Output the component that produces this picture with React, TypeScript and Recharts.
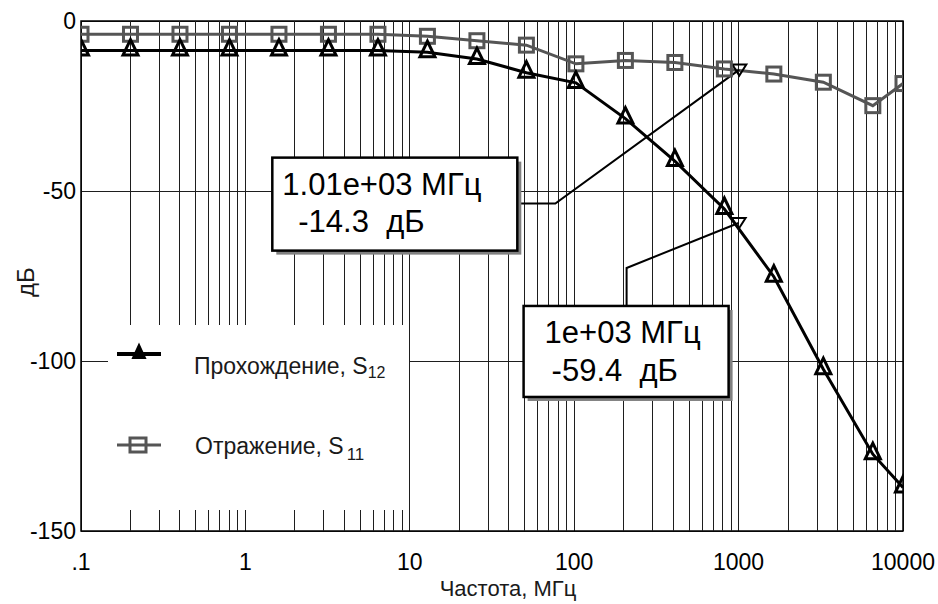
import React from 'react';
import {
  LineChart,
  Line,
  XAxis,
  YAxis,
  CartesianGrid,
  ReferenceLine,
  ReferenceArea,
  ReferenceDot,
  Legend,
} from 'recharts';

// частоты, МГц (шаг x2 от 0.1 до 10000)
const FREQS = [0.1, 0.2, 0.4, 0.8, 1.6, 3.2, 6.4, 12.8, 25.6, 51.2, 102.4, 204.8, 409.6, 819.2, 1638.4, 3276.8, 6553.6, 10000];
// прохождение S12, дБ
const S12 = [-8.7, -8.7, -8.7, -8.7, -8.7, -8.7, -8.7, -9.2, -11.2, -15.2, -18.2, -28.7, -41.2, -55.3, -75.2, -102.4, -127.4, -137.2];
// отражение S11, дБ
const S11 = [-3.9, -3.9, -3.9, -3.9, -3.9, -3.9, -3.9, -4.5, -5.8, -7.1, -12.6, -11.6, -12.2, -14.1, -15.6, -18.0, -24.9, -18.4];

const X_TICKS = [0.1, 1, 10, 100, 1000, 10000];
const Y_TICKS = [0, -50, -100, -150];
const DECADES = [0.1, 1, 10, 100, 1000];
const MINOR_STEPS = [2, 3, 4, 5, 6, 7, 8, 9];

const SERIES_NAMES = ['Прохождение, S', 'Отражение, S'];
const SERIES_SUBS = ['12', '11'];

// маркеры-курсоры
const CURSOR_S11 = { f: 1010, db: -14.3, freqText: '1.01e+03 МГц', dbText: '-14.3  дБ' };
const CURSOR_S12 = { f: 1000, db: -59.4, freqText: '1e+03 МГц', dbText: '-59.4  дБ' };

const FONT = '"Liberation Sans", Arial, sans-serif';
const GRID = '#1e1e1e';
const GRAY = '#555555';

const data = FREQS.map((f, i) => ({ f, s12: S12[i], s11: S11[i] }));
const minorLines = DECADES.flatMap((d) => MINOR_STEPS.map((m) => +(d * m).toPrecision(3)));

// plot box in px, only used to clip markers at the frame like the original
const PLOT = { x: 81, y: 21, w: 822, h: 510 };

const TriangleDot = (props: any) => {
  const { cx, cy, index } = props;
  if (cx == null || cy == null) return null;
  return (
    <path
      key={`tri-${index}`}
      d={`M${cx - 7.5},${cy + 4.5} L${cx},${cy - 11} L${cx + 7.5},${cy + 4.5} Z`}
      fill="none"
      stroke="#000"
      strokeWidth={3}
      clipPath="url(#plotClip)"
    />
  );
};

const SquareDot = (props: any) => {
  const { cx, cy, index } = props;
  if (cx == null || cy == null) return null;
  return (
    <rect
      key={`sq-${index}`}
      x={cx - 7}
      y={cy - 7}
      width={14}
      height={14}
      fill="none"
      stroke={GRAY}
      strokeWidth={3}
      clipPath="url(#plotClip)"
    />
  );
};

// callout: box offset/size relative to the cursor point, leader polyline, text positions
const makeCallout =
  (c: typeof CURSOR_S11, box: number[], leader: number[][], t1: number[], t2: number[], withClip = false) =>
  (props: any) => {
    const { cx, cy } = props;
    if (cx == null || cy == null) return <g />;
    const bx = cx + box[0];
    const by = cy + box[1];
    const pts = leader.map((p) => `${cx + p[0]},${cy + p[1]}`).join(' ') + ` ${cx},${cy}`;
    return (
      <g>
        {withClip && (
          <defs>
            <clipPath id="plotClip">
              <rect x={PLOT.x} y={PLOT.y} width={PLOT.w} height={PLOT.h} />
            </clipPath>
          </defs>
        )}
        <polyline points={pts} fill="none" stroke="#000" strokeWidth={2} />
        <path
          d={`M${cx - 7},${cy - 5} L${cx + 7},${cy - 5} L${cx},${cy + 6} Z`}
          fill="none"
          stroke="#000"
          strokeWidth={2}
        />
        <rect x={bx + 4} y={by + 4} width={box[2]} height={box[3]} fill="#808080" />
        <rect x={bx} y={by} width={box[2]} height={box[3]} fill="#fff" stroke="#000" strokeWidth={2.5} />
        <text x={bx + t1[0]} y={by + t1[1]} fontFamily={FONT} fontSize={31} fill="#000" style={{ whiteSpace: 'pre' }}>
          {c.freqText}
        </text>
        <text x={bx + t2[0]} y={by + t2[1]} fontFamily={FONT} fontSize={31} fill="#000" style={{ whiteSpace: 'pre' }}>
          {c.dbText}
        </text>
      </g>
    );
  };

const CalloutS11 = makeCallout(CURSOR_S11, [-467, 88, 245, 93], [[-222, 134], [-184, 134]], [10, 37], [26, 74], true);
const CalloutS12 = makeCallout(CURSOR_S12, [-215, 83, 205, 91], [[-112, 83], [-112, 45]], [21, 37], [28, 75]);

const renderLegend = () => (
  <svg width={301} height={185} style={{ display: 'block' }}>
    <line x1={9} y1={29} x2={53} y2={29} stroke="#000" strokeWidth={4} />
    <path d="M25,33 L31,20 L37,33 Z" fill="#000" stroke="#000" strokeWidth={2} />
    <text x={86} y={49} fontFamily={FONT} fontSize={23} fill="#1a1a1a">
      {SERIES_NAMES[0]}
      <tspan fontSize={16} dy={4}>
        {SERIES_SUBS[0]}
      </tspan>
    </text>
    <line x1={9} y1={120} x2={53} y2={120} stroke={GRAY} strokeWidth={3} />
    <rect x={22} y={113} width={16} height={14} fill="none" stroke={GRAY} strokeWidth={3} />
    <text x={87} y={129} fontFamily={FONT} fontSize={23} fill="#1a1a1a">
      {SERIES_NAMES[1]}
      <tspan fontSize={17} dx={3} dy={6}>
        {SERIES_SUBS[1]}
      </tspan>
    </text>
  </svg>
);

const XTitle = (props: any) => {
  const vb = props.viewBox || {};
  return (
    <text x={vb.x + vb.width / 2 + 16} y={vb.y + vb.height - 8} textAnchor="middle" fontFamily={FONT} fontSize={22} fill="#1a1a1a">
      Частота, МГц
    </text>
  );
};

const YTitle = (props: any) => {
  const vb = props.viewBox || {};
  const x = 34;
  const y = vb.y + vb.height / 2 + 6;
  return (
    <text x={x} y={y} transform={`rotate(-90 ${x} ${y})`} textAnchor="middle" fontFamily={FONT} fontSize={24} fill="#1a1a1a">
      дБ
    </text>
  );
};

export default function App() {
  return (
    <div style={{ position: 'absolute', left: 0, top: 0, width: 938, height: 604, background: '#fff' }}>
      <LineChart width={938} height={604} data={data} margin={{ top: 21, right: 35, left: 0, bottom: 0 }}>
        <CartesianGrid stroke={GRID} strokeWidth={1} shapeRendering="crispEdges" />
        {minorLines.map((v) => (
          <ReferenceLine key={`m-${v}`} x={v} stroke={GRID} strokeWidth={1} shapeRendering="crispEdges" />
        ))}
        <ReferenceArea x1={0.1} x2={10000} y1={-150} y2={0} fill="none" stroke="#000" strokeWidth={1.5} />
        <XAxis
          dataKey="f"
          type="number"
          scale="log"
          domain={[0.1, 10000]}
          ticks={X_TICKS}
          interval={0}
          allowDataOverflow
          axisLine={false}
          tickLine={false}
          tickSize={0}
          tickMargin={23}
          height={73}
          tick={{ fontSize: 23, fill: '#000', fontFamily: FONT }}
          tickFormatter={(v: number) => (v === 0.1 ? '.1' : String(v))}
          label={<XTitle />}
        />
        <YAxis
          type="number"
          domain={[-150, 0]}
          ticks={Y_TICKS}
          allowDataOverflow
          axisLine={false}
          tickLine={false}
          tickSize={0}
          tickMargin={5}
          width={81}
          tick={{ fontSize: 23, fill: '#000', fontFamily: FONT }}
          label={<YTitle />}
        />
        <Legend
          layout="horizontal"
          verticalAlign="middle"
          align="center"
          wrapperStyle={{ position: 'absolute', left: 108, top: 325, width: 301, height: 185, background: '#fff' }}
          content={renderLegend}
        />
        <Line
          type="linear"
          dataKey="s11"
          name={SERIES_NAMES[1] + SERIES_SUBS[1]}
          stroke={GRAY}
          strokeWidth={3}
          dot={SquareDot}
          activeDot={false}
          isAnimationActive={false}
        />
        <Line
          type="linear"
          dataKey="s12"
          name={SERIES_NAMES[0] + SERIES_SUBS[0]}
          stroke="#000"
          strokeWidth={3}
          dot={TriangleDot}
          activeDot={false}
          isAnimationActive={false}
        />
        <ReferenceDot x={CURSOR_S11.f} y={CURSOR_S11.db} r={6} shape={CalloutS11} />
        <ReferenceDot x={CURSOR_S12.f} y={CURSOR_S12.db} r={6} shape={CalloutS12} />
      </LineChart>
    </div>
  );
}
